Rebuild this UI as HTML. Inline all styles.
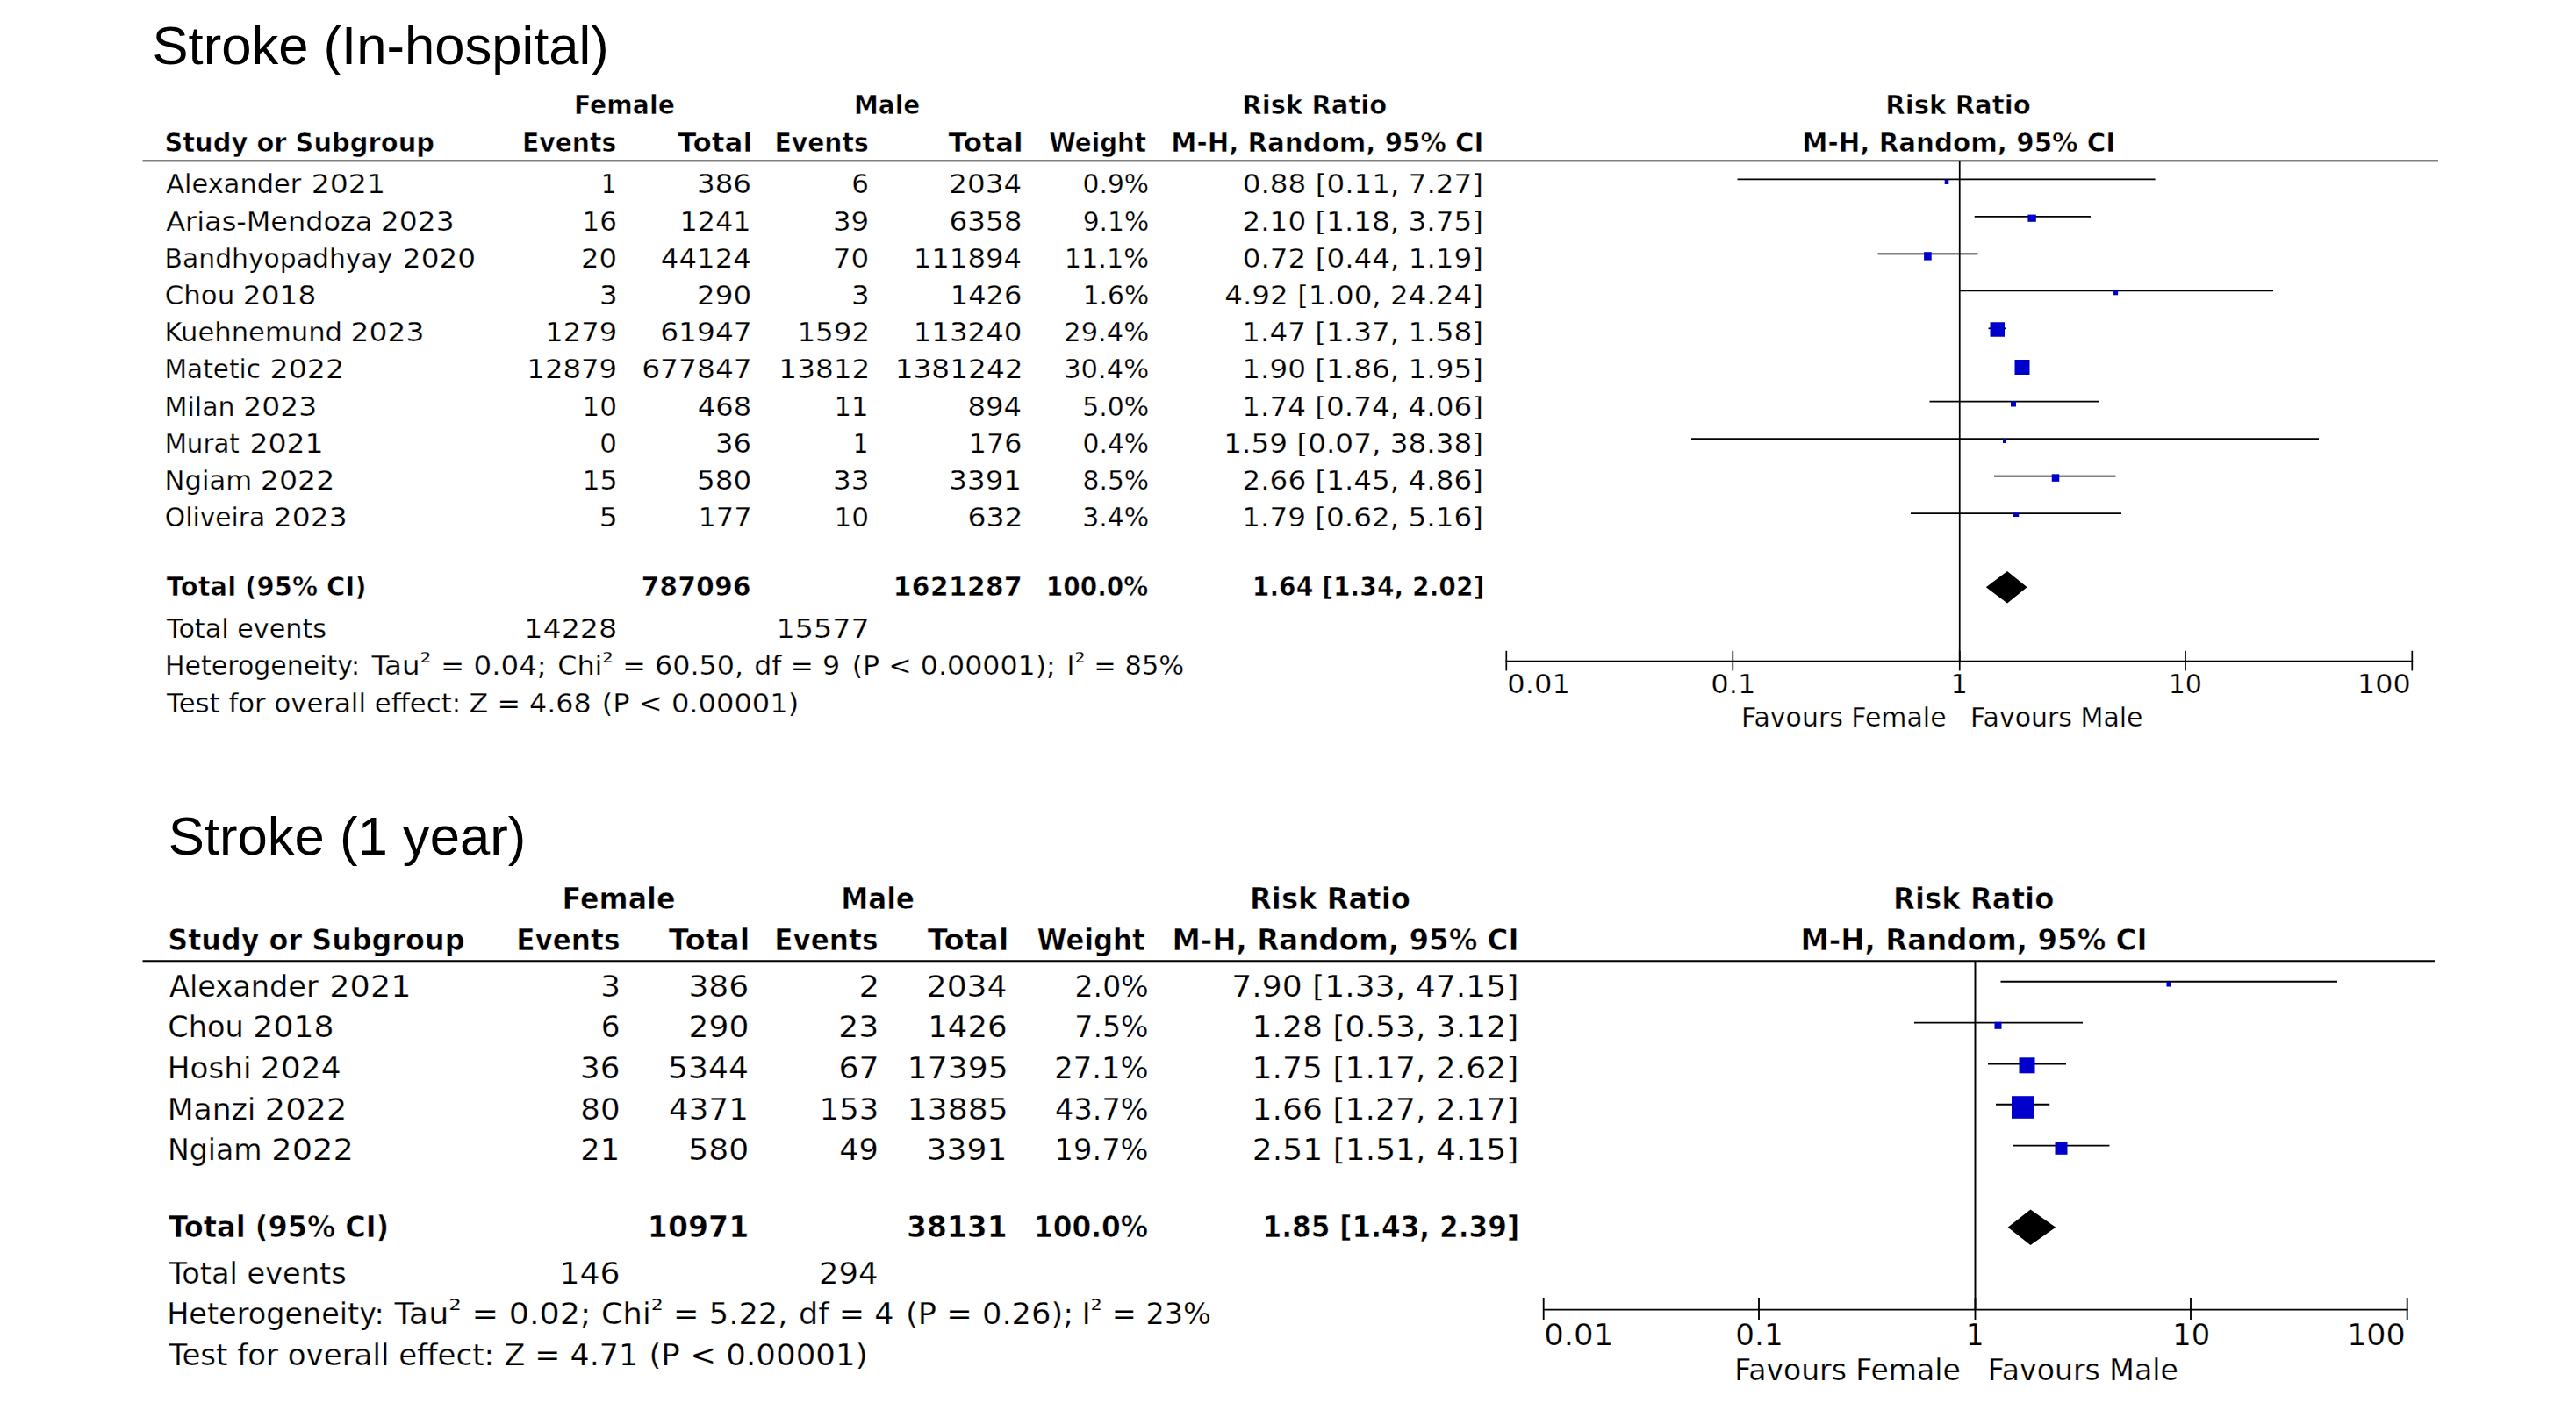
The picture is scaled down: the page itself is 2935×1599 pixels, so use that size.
<!DOCTYPE html>
<html lang="en"><head><meta charset="utf-8"><title>Stroke forest plots</title>
<style>
html,body{margin:0;padding:0;background:#fff;}
body{width:2935px;height:1599px;overflow:hidden;}
svg{display:block;}
text{fill:#000;white-space:pre;}
.r{font-family:"DejaVu Sans","Liberation Sans",sans-serif;font-weight:normal;stroke:#fff;stroke-width:0.25px;}
.b{font-family:"DejaVu Sans","Liberation Sans",sans-serif;font-weight:bold;stroke:#fff;stroke-width:0.55px;}
.a{font-family:"Liberation Sans",Arial,sans-serif;font-weight:normal;}
</style></head>
<body>
<svg width="2935" height="1599" viewBox="0 0 2935 1599">
<rect width="2935" height="1599" fill="#fff"/>
<g>
<line x1="162.5" y1="183.4" x2="2778" y2="183.4" stroke="#000" stroke-width="1.85"/>
<line x1="2232.75" y1="183.3" x2="2232.75" y2="753.6" stroke="#000" stroke-width="1.75"/>
<line x1="1715.5" y1="753.6" x2="2749.2" y2="753.6" stroke="#000" stroke-width="1.75"/>
<line x1="1716.3" y1="741.8" x2="1716.3" y2="764.4" stroke="#000" stroke-width="1.7"/>
<line x1="1974.3" y1="741.8" x2="1974.3" y2="764.4" stroke="#000" stroke-width="1.7"/>
<line x1="2232.75" y1="741.8" x2="2232.75" y2="764.4" stroke="#000" stroke-width="1.7"/>
<line x1="2490.0" y1="741.8" x2="2490.0" y2="764.4" stroke="#000" stroke-width="1.7"/>
<line x1="2748.3" y1="741.8" x2="2748.3" y2="764.4" stroke="#000" stroke-width="1.7"/>
<line x1="1979.5" y1="204.4" x2="2455.6" y2="204.4" stroke="#000" stroke-width="1.75"/>
<rect x="2215.70" y="204.80" width="4.6" height="5.2" fill="#0000cc"/>
<line x1="2249.75" y1="246.9" x2="2382" y2="246.9" stroke="#000" stroke-width="1.75"/>
<rect x="2310.40" y="244.60" width="9.4" height="8.2" fill="#0000cc"/>
<line x1="2139.5" y1="289.4" x2="2253.5" y2="289.4" stroke="#000" stroke-width="1.75"/>
<rect x="2192.10" y="287.20" width="8.6" height="9.4" fill="#0000cc"/>
<line x1="2233" y1="331.3" x2="2590" y2="331.3" stroke="#000" stroke-width="1.75"/>
<rect x="2408.10" y="330.90" width="5" height="5.4" fill="#0000cc"/>
<line x1="2265.5" y1="374.3" x2="2285.5" y2="374.3" stroke="#000" stroke-width="1.75"/>
<rect x="2267.50" y="367.25" width="16.5" height="16.5" fill="#0000cc"/>
<line x1="2298" y1="418.5" x2="2310" y2="418.5" stroke="#000" stroke-width="1.75"/>
<rect x="2295.50" y="410.00" width="17" height="17" fill="#0000cc"/>
<line x1="2198.5" y1="457.7" x2="2391" y2="457.7" stroke="#000" stroke-width="1.75"/>
<rect x="2291.00" y="457.50" width="6" height="6" fill="#0000cc"/>
<line x1="1927" y1="500" x2="2642" y2="500" stroke="#000" stroke-width="1.75"/>
<rect x="2282.00" y="500.00" width="4" height="5" fill="#0000cc"/>
<line x1="2272" y1="542.5" x2="2410.5" y2="542.5" stroke="#000" stroke-width="1.75"/>
<rect x="2337.75" y="540.35" width="8.5" height="8.5" fill="#0000cc"/>
<line x1="2177" y1="585.0" x2="2417" y2="585.0" stroke="#000" stroke-width="1.75"/>
<rect x="2293.75" y="584.55" width="6.5" height="4.5" fill="#0000cc"/>
<polygon points="2262.8,669.2 2287,651.0 2309.6,669.2 2287,687.4000000000001" fill="#000"/>
<line x1="162.5" y1="1095.3" x2="2774" y2="1095.3" stroke="#000" stroke-width="2.0"/>
<line x1="2250.5" y1="1095.3" x2="2250.5" y2="1492.6" stroke="#000" stroke-width="1.95"/>
<line x1="1758" y1="1492.6" x2="2743.5" y2="1492.6" stroke="#000" stroke-width="1.95"/>
<line x1="1758.7" y1="1479" x2="1758.7" y2="1504" stroke="#000" stroke-width="1.85"/>
<line x1="2004" y1="1479" x2="2004" y2="1504" stroke="#000" stroke-width="1.85"/>
<line x1="2250.5" y1="1479" x2="2250.5" y2="1504" stroke="#000" stroke-width="1.85"/>
<line x1="2496" y1="1479" x2="2496" y2="1504" stroke="#000" stroke-width="1.85"/>
<line x1="2742.7" y1="1479" x2="2742.7" y2="1504" stroke="#000" stroke-width="1.85"/>
<line x1="2279.5" y1="1118.8" x2="2663" y2="1118.8" stroke="#000" stroke-width="1.95"/>
<rect x="2468.50" y="1119.05" width="5" height="5.5" fill="#0000cc"/>
<line x1="2181" y1="1165.6" x2="2373" y2="1165.6" stroke="#000" stroke-width="1.95"/>
<rect x="2272.50" y="1164.80" width="8" height="8" fill="#0000cc"/>
<line x1="2265" y1="1212.4" x2="2354" y2="1212.4" stroke="#000" stroke-width="1.95"/>
<rect x="2300.50" y="1205.30" width="18" height="18" fill="#0000cc"/>
<line x1="2274" y1="1258.8" x2="2335.2" y2="1258.8" stroke="#000" stroke-width="1.95"/>
<rect x="2292.00" y="1249.20" width="25.2" height="25.6" fill="#0000cc"/>
<line x1="2293.5" y1="1305.6" x2="2403.5" y2="1305.6" stroke="#000" stroke-width="1.95"/>
<rect x="2341.50" y="1301.80" width="14" height="14" fill="#0000cc"/>
<polygon points="2287.6,1398.8 2313.5,1378.5 2342.2,1398.8 2313.5,1419.1" fill="#000"/>
</g>
<g>
<text class="a" x="173.45" y="73.00" font-size="61" textLength="520.37" lengthAdjust="spacingAndGlyphs">Stroke (In-hospital)</text>
<text class="b" x="653.90" y="130.20" font-size="30.4" textLength="114.97" lengthAdjust="spacingAndGlyphs">Female</text>
<text class="b" x="972.93" y="130.20" font-size="30.4" textLength="75.43" lengthAdjust="spacingAndGlyphs">Male</text>
<text class="b" x="1415.33" y="130.20" font-size="30.4" textLength="164.92" lengthAdjust="spacingAndGlyphs">Risk Ratio</text>
<text class="b" x="2148.32" y="130.20" font-size="30.4" textLength="165.43" lengthAdjust="spacingAndGlyphs">Risk Ratio</text>
<text class="b" x="187.42" y="172.80" font-size="30.4" textLength="307.63" lengthAdjust="spacingAndGlyphs">Study or Subgroup</text>
<text class="b" x="594.90" y="172.80" font-size="30.4" textLength="107.44" lengthAdjust="spacingAndGlyphs">Events</text>
<text class="b" x="772.35" y="172.80" font-size="30.4" textLength="84.76" lengthAdjust="spacingAndGlyphs">Total</text>
<text class="b" x="882.40" y="172.80" font-size="30.4" textLength="107.44" lengthAdjust="spacingAndGlyphs">Events</text>
<text class="b" x="1080.60" y="172.80" font-size="30.4" textLength="85.02" lengthAdjust="spacingAndGlyphs">Total</text>
<text class="b" x="1195.17" y="172.80" font-size="30.4" textLength="110.97" lengthAdjust="spacingAndGlyphs">Weight</text>
<text class="b" x="1334.31" y="172.80" font-size="30.4" textLength="356.20" lengthAdjust="spacingAndGlyphs">M-H, Random, 95% CI</text>
<text class="b" x="2053.30" y="172.80" font-size="30.4" textLength="356.91" lengthAdjust="spacingAndGlyphs">M-H, Random, 95% CI</text>
<text class="r" y="220.30" font-size="30.0"><tspan x="189.26" textLength="154.14" lengthAdjust="spacingAndGlyphs">Alexander</tspan> <tspan x="354.73" textLength="84.23" lengthAdjust="spacingAndGlyphs">2021</tspan></text>
<text class="r" x="684.90" y="220.30" font-size="30.0" textLength="17.25" lengthAdjust="spacingAndGlyphs">1</text>
<text class="r" x="793.98" y="220.30" font-size="30.0" textLength="62.06" lengthAdjust="spacingAndGlyphs">386</text>
<text class="r" x="970.31" y="220.30" font-size="30.0" textLength="19.64" lengthAdjust="spacingAndGlyphs">6</text>
<text class="r" x="1081.38" y="220.30" font-size="30.0" textLength="82.75" lengthAdjust="spacingAndGlyphs">2034</text>
<text class="r" x="1233.54" y="220.30" font-size="30.0" textLength="75.60" lengthAdjust="spacingAndGlyphs">0.9%</text>
<text class="r" x="1415.75" y="220.30" font-size="30.0" textLength="274.25" lengthAdjust="spacingAndGlyphs">0.88 [0.11, 7.27]</text>
<text class="r" y="262.52" font-size="30.0"><tspan x="189.25" textLength="235.15" lengthAdjust="spacingAndGlyphs">Arias-Mendoza</tspan> <tspan x="433.84" textLength="83.80" lengthAdjust="spacingAndGlyphs">2023</tspan></text>
<text class="r" x="663.48" y="262.52" font-size="30.0" textLength="39.37" lengthAdjust="spacingAndGlyphs">16</text>
<text class="r" x="774.47" y="262.52" font-size="30.0" textLength="81.22" lengthAdjust="spacingAndGlyphs">1241</text>
<text class="r" x="948.99" y="262.52" font-size="30.0" textLength="41.29" lengthAdjust="spacingAndGlyphs">39</text>
<text class="r" x="1081.48" y="262.52" font-size="30.0" textLength="83.05" lengthAdjust="spacingAndGlyphs">6358</text>
<text class="r" x="1233.63" y="262.52" font-size="30.0" textLength="75.51" lengthAdjust="spacingAndGlyphs">9.1%</text>
<text class="r" x="1415.51" y="262.52" font-size="30.0" textLength="274.49" lengthAdjust="spacingAndGlyphs">2.10 [1.18, 3.75]</text>
<text class="r" y="304.74" font-size="30.0"><tspan x="187.58" textLength="259.81" lengthAdjust="spacingAndGlyphs">Bandhyopadhyay</tspan> <tspan x="458.85" textLength="83.32" lengthAdjust="spacingAndGlyphs">2020</tspan></text>
<text class="r" x="662.00" y="304.74" font-size="30.0" textLength="41.04" lengthAdjust="spacingAndGlyphs">20</text>
<text class="r" x="752.88" y="304.74" font-size="30.0" textLength="102.94" lengthAdjust="spacingAndGlyphs">44124</text>
<text class="r" x="948.79" y="304.74" font-size="30.0" textLength="41.36" lengthAdjust="spacingAndGlyphs">70</text>
<text class="r" x="1040.73" y="304.74" font-size="30.0" textLength="123.39" lengthAdjust="spacingAndGlyphs">111894</text>
<text class="r" x="1212.66" y="304.74" font-size="30.0" textLength="96.51" lengthAdjust="spacingAndGlyphs">11.1%</text>
<text class="r" x="1415.75" y="304.74" font-size="30.0" textLength="274.25" lengthAdjust="spacingAndGlyphs">0.72 [0.44, 1.19]</text>
<text class="r" y="346.96" font-size="30.0"><tspan x="187.77" textLength="79.53" lengthAdjust="spacingAndGlyphs">Chou</tspan> <tspan x="276.85" textLength="83.39" lengthAdjust="spacingAndGlyphs">2018</tspan></text>
<text class="r" x="682.90" y="346.96" font-size="30.0" textLength="20.60" lengthAdjust="spacingAndGlyphs">3</text>
<text class="r" x="794.08" y="346.96" font-size="30.0" textLength="62.08" lengthAdjust="spacingAndGlyphs">290</text>
<text class="r" x="970.00" y="346.96" font-size="30.0" textLength="20.60" lengthAdjust="spacingAndGlyphs">3</text>
<text class="r" x="1082.76" y="346.96" font-size="30.0" textLength="81.56" lengthAdjust="spacingAndGlyphs">1426</text>
<text class="r" x="1233.74" y="346.96" font-size="30.0" textLength="75.40" lengthAdjust="spacingAndGlyphs">1.6%</text>
<text class="r" x="1395.31" y="346.96" font-size="30.0" textLength="294.69" lengthAdjust="spacingAndGlyphs">4.92 [1.00, 24.24]</text>
<text class="r" y="389.18" font-size="30.0"><tspan x="187.49" textLength="202.54" lengthAdjust="spacingAndGlyphs">Kuehnemund</tspan> <tspan x="399.59" textLength="83.80" lengthAdjust="spacingAndGlyphs">2023</tspan></text>
<text class="r" x="621.35" y="389.18" font-size="30.0" textLength="81.81" lengthAdjust="spacingAndGlyphs">1279</text>
<text class="r" x="752.16" y="389.18" font-size="30.0" textLength="104.65" lengthAdjust="spacingAndGlyphs">61947</text>
<text class="r" x="908.40" y="389.18" font-size="30.0" textLength="82.85" lengthAdjust="spacingAndGlyphs">1592</text>
<text class="r" x="1040.72" y="389.18" font-size="30.0" textLength="123.73" lengthAdjust="spacingAndGlyphs">113240</text>
<text class="r" x="1212.27" y="389.18" font-size="30.0" textLength="96.92" lengthAdjust="spacingAndGlyphs">29.4%</text>
<text class="r" x="1415.31" y="389.18" font-size="30.0" textLength="274.69" lengthAdjust="spacingAndGlyphs">1.47 [1.37, 1.58]</text>
<text class="r" y="431.40" font-size="30.0"><tspan x="187.60" textLength="109.49" lengthAdjust="spacingAndGlyphs">Matetic</tspan> <tspan x="307.57" textLength="84.50" lengthAdjust="spacingAndGlyphs">2022</tspan></text>
<text class="r" x="600.33" y="431.40" font-size="30.0" textLength="102.84" lengthAdjust="spacingAndGlyphs">12879</text>
<text class="r" x="731.16" y="431.40" font-size="30.0" textLength="125.65" lengthAdjust="spacingAndGlyphs">677847</text>
<text class="r" x="887.39" y="431.40" font-size="30.0" textLength="103.88" lengthAdjust="spacingAndGlyphs">13812</text>
<text class="r" x="1019.68" y="431.40" font-size="30.0" textLength="145.90" lengthAdjust="spacingAndGlyphs">1381242</text>
<text class="r" x="1212.17" y="431.40" font-size="30.0" textLength="97.01" lengthAdjust="spacingAndGlyphs">30.4%</text>
<text class="r" x="1415.31" y="431.40" font-size="30.0" textLength="274.69" lengthAdjust="spacingAndGlyphs">1.90 [1.86, 1.95]</text>
<text class="r" y="473.62" font-size="30.0"><tspan x="187.55" textLength="80.00" lengthAdjust="spacingAndGlyphs">Milan</tspan> <tspan x="277.34" textLength="83.80" lengthAdjust="spacingAndGlyphs">2023</tspan></text>
<text class="r" x="663.47" y="473.62" font-size="30.0" textLength="39.49" lengthAdjust="spacingAndGlyphs">10</text>
<text class="r" x="794.89" y="473.62" font-size="30.0" textLength="61.30" lengthAdjust="spacingAndGlyphs">468</text>
<text class="r" x="950.62" y="473.62" font-size="30.0" textLength="38.96" lengthAdjust="spacingAndGlyphs">11</text>
<text class="r" x="1102.57" y="473.62" font-size="30.0" textLength="61.54" lengthAdjust="spacingAndGlyphs">894</text>
<text class="r" x="1233.19" y="473.62" font-size="30.0" textLength="75.96" lengthAdjust="spacingAndGlyphs">5.0%</text>
<text class="r" x="1415.31" y="473.62" font-size="30.0" textLength="274.69" lengthAdjust="spacingAndGlyphs">1.74 [0.74, 4.06]</text>
<text class="r" y="515.84" font-size="30.0"><tspan x="187.63" textLength="85.17" lengthAdjust="spacingAndGlyphs">Murat</tspan> <tspan x="284.43" textLength="84.23" lengthAdjust="spacingAndGlyphs">2021</tspan></text>
<text class="r" x="683.33" y="515.84" font-size="30.0" textLength="19.62" lengthAdjust="spacingAndGlyphs">0</text>
<text class="r" x="815.01" y="515.84" font-size="30.0" textLength="41.03" lengthAdjust="spacingAndGlyphs">36</text>
<text class="r" x="972.00" y="515.84" font-size="30.0" textLength="17.25" lengthAdjust="spacingAndGlyphs">1</text>
<text class="r" x="1103.80" y="515.84" font-size="30.0" textLength="60.50" lengthAdjust="spacingAndGlyphs">176</text>
<text class="r" x="1233.54" y="515.84" font-size="30.0" textLength="75.60" lengthAdjust="spacingAndGlyphs">0.4%</text>
<text class="r" x="1394.31" y="515.84" font-size="30.0" textLength="295.70" lengthAdjust="spacingAndGlyphs">1.59 [0.07, 38.38]</text>
<text class="r" y="558.06" font-size="30.0"><tspan x="187.49" textLength="99.62" lengthAdjust="spacingAndGlyphs">Ngiam</tspan> <tspan x="296.82" textLength="84.50" lengthAdjust="spacingAndGlyphs">2022</tspan></text>
<text class="r" x="663.41" y="558.06" font-size="30.0" textLength="40.26" lengthAdjust="spacingAndGlyphs">15</text>
<text class="r" x="793.95" y="558.06" font-size="30.0" textLength="62.22" lengthAdjust="spacingAndGlyphs">580</text>
<text class="r" x="948.97" y="558.06" font-size="30.0" textLength="41.65" lengthAdjust="spacingAndGlyphs">33</text>
<text class="r" x="1081.28" y="558.06" font-size="30.0" textLength="82.77" lengthAdjust="spacingAndGlyphs">3391</text>
<text class="r" x="1233.48" y="558.06" font-size="30.0" textLength="75.66" lengthAdjust="spacingAndGlyphs">8.5%</text>
<text class="r" x="1415.51" y="558.06" font-size="30.0" textLength="274.49" lengthAdjust="spacingAndGlyphs">2.66 [1.45, 4.86]</text>
<text class="r" y="600.28" font-size="30.0"><tspan x="187.83" textLength="114.36" lengthAdjust="spacingAndGlyphs">Oliveira</tspan> <tspan x="311.84" textLength="83.80" lengthAdjust="spacingAndGlyphs">2023</tspan></text>
<text class="r" x="682.82" y="600.28" font-size="30.0" textLength="20.96" lengthAdjust="spacingAndGlyphs">5</text>
<text class="r" x="795.45" y="600.28" font-size="30.0" textLength="61.29" lengthAdjust="spacingAndGlyphs">177</text>
<text class="r" x="950.57" y="600.28" font-size="30.0" textLength="39.49" lengthAdjust="spacingAndGlyphs">10</text>
<text class="r" x="1102.45" y="600.28" font-size="30.0" textLength="63.16" lengthAdjust="spacingAndGlyphs">632</text>
<text class="r" x="1233.22" y="600.28" font-size="30.0" textLength="75.93" lengthAdjust="spacingAndGlyphs">3.4%</text>
<text class="r" x="1415.31" y="600.28" font-size="30.0" textLength="274.69" lengthAdjust="spacingAndGlyphs">1.79 [0.62, 5.16]</text>
<text class="b" x="189.86" y="679.30" font-size="30.4" textLength="227.64" lengthAdjust="spacingAndGlyphs">Total (95% CI)</text>
<text class="b" x="730.49" y="679.30" font-size="30.4" textLength="125.12" lengthAdjust="spacingAndGlyphs">787096</text>
<text class="b" x="1017.59" y="679.30" font-size="30.4" textLength="147.32" lengthAdjust="spacingAndGlyphs">1621287</text>
<text class="b" x="1191.84" y="679.30" font-size="30.4" textLength="116.54" lengthAdjust="spacingAndGlyphs">100.0%</text>
<text class="b" x="1426.82" y="679.30" font-size="30.4" textLength="264.60" lengthAdjust="spacingAndGlyphs">1.64 [1.34, 2.02]</text>
<text class="r" x="190.09" y="727.30" font-size="30.0" textLength="181.89" lengthAdjust="spacingAndGlyphs">Total events</text>
<text class="r" x="597.35" y="727.30" font-size="30.0" textLength="105.83" lengthAdjust="spacingAndGlyphs">14228</text>
<text class="r" x="884.63" y="727.30" font-size="30.0" textLength="106.22" lengthAdjust="spacingAndGlyphs">15577</text>
<text class="r" y="769.30" font-size="30.0"><tspan x="188.06" textLength="221.94" lengthAdjust="spacingAndGlyphs">Heterogeneity:</tspan> <tspan x="423.60" textLength="199.20" lengthAdjust="spacingAndGlyphs">Tau<tspan dy="-4.5">²</tspan><tspan dy="4.5"> = 0.04;</tspan></tspan> <tspan x="635.21" textLength="211.89" lengthAdjust="spacingAndGlyphs">Chi<tspan dy="-4.5">²</tspan><tspan dy="4.5"> = 60.50,</tspan></tspan> <tspan x="859.25" textLength="97.97" lengthAdjust="spacingAndGlyphs">df = 9</tspan> <tspan x="970.78" textLength="231.91" lengthAdjust="spacingAndGlyphs">(P &lt; 0.00001);</tspan> <tspan x="1215.51" textLength="133.67" lengthAdjust="spacingAndGlyphs">I<tspan dy="-4.5">²</tspan><tspan dy="4.5"> = 85%</tspan></tspan></text>
<text class="r" y="811.80" font-size="30.0"><tspan x="190.09" textLength="335.00" lengthAdjust="spacingAndGlyphs">Test for overall effect:</tspan> <tspan x="534.58" textLength="139.09" lengthAdjust="spacingAndGlyphs">Z = 4.68</tspan> <tspan x="685.74" textLength="224.52" lengthAdjust="spacingAndGlyphs">(P &lt; 0.00001)</tspan></text>
<text class="r" x="1717.38" y="790.30" font-size="30.0" textLength="71.59" lengthAdjust="spacingAndGlyphs">0.01</text>
<text class="r" x="1949.38" y="790.30" font-size="30.0" textLength="51.08" lengthAdjust="spacingAndGlyphs">0.1</text>
<text class="r" x="2222.71" y="790.30" font-size="30.0" textLength="19.05" lengthAdjust="spacingAndGlyphs">1</text>
<text class="r" x="2470.69" y="790.30" font-size="30.0" textLength="38.30" lengthAdjust="spacingAndGlyphs">10</text>
<text class="r" x="2686.01" y="790.30" font-size="30.0" textLength="60.60" lengthAdjust="spacingAndGlyphs">100</text>
<text class="r" x="1984.06" y="827.80" font-size="30.0" textLength="233.53" lengthAdjust="spacingAndGlyphs">Favours Female</text>
<text class="r" x="2245.06" y="827.80" font-size="30.0" textLength="196.54" lengthAdjust="spacingAndGlyphs">Favours Male</text>
<text class="a" x="191.70" y="974.30" font-size="61" textLength="407.62" lengthAdjust="spacingAndGlyphs">Stroke (1 year)</text>
<text class="b" x="640.58" y="1036.20" font-size="33.6" textLength="128.96" lengthAdjust="spacingAndGlyphs">Female</text>
<text class="b" x="958.14" y="1036.20" font-size="33.6" textLength="83.87" lengthAdjust="spacingAndGlyphs">Male</text>
<text class="b" x="1424.04" y="1036.20" font-size="33.6" textLength="182.85" lengthAdjust="spacingAndGlyphs">Risk Ratio</text>
<text class="b" x="2157.03" y="1036.20" font-size="33.6" textLength="183.36" lengthAdjust="spacingAndGlyphs">Risk Ratio</text>
<text class="b" x="191.21" y="1082.80" font-size="33.6" textLength="338.22" lengthAdjust="spacingAndGlyphs">Study or Subgroup</text>
<text class="b" x="588.14" y="1082.80" font-size="33.6" textLength="118.34" lengthAdjust="spacingAndGlyphs">Events</text>
<text class="b" x="761.83" y="1082.80" font-size="33.6" textLength="92.51" lengthAdjust="spacingAndGlyphs">Total</text>
<text class="b" x="882.14" y="1082.80" font-size="33.6" textLength="118.34" lengthAdjust="spacingAndGlyphs">Events</text>
<text class="b" x="1056.83" y="1082.80" font-size="33.6" textLength="92.51" lengthAdjust="spacingAndGlyphs">Total</text>
<text class="b" x="1181.58" y="1082.80" font-size="33.6" textLength="123.13" lengthAdjust="spacingAndGlyphs">Weight</text>
<text class="b" x="1335.51" y="1082.80" font-size="33.6" textLength="394.99" lengthAdjust="spacingAndGlyphs">M-H, Random, 95% CI</text>
<text class="b" x="2051.51" y="1082.80" font-size="33.6" textLength="394.99" lengthAdjust="spacingAndGlyphs">M-H, Random, 95% CI</text>
<text class="r" y="1135.80" font-size="33.2"><tspan x="192.94" textLength="169.86" lengthAdjust="spacingAndGlyphs">Alexander</tspan> <tspan x="375.32" textLength="93.16" lengthAdjust="spacingAndGlyphs">2021</tspan></text>
<text class="r" x="684.32" y="1135.80" font-size="33.2" textLength="22.85" lengthAdjust="spacingAndGlyphs">3</text>
<text class="r" x="784.41" y="1135.80" font-size="33.2" textLength="68.86" lengthAdjust="spacingAndGlyphs">386</text>
<text class="r" x="978.53" y="1135.80" font-size="33.2" textLength="23.70" lengthAdjust="spacingAndGlyphs">2</text>
<text class="r" x="1055.71" y="1135.80" font-size="33.2" textLength="91.81" lengthAdjust="spacingAndGlyphs">2034</text>
<text class="r" x="1224.58" y="1135.80" font-size="33.2" textLength="84.05" lengthAdjust="spacingAndGlyphs">2.0%</text>
<text class="r" x="1403.23" y="1135.80" font-size="33.2" textLength="327.17" lengthAdjust="spacingAndGlyphs">7.90 [1.33, 47.15]</text>
<text class="r" y="1182.30" font-size="33.2"><tspan x="191.32" textLength="86.42" lengthAdjust="spacingAndGlyphs">Chou</tspan> <tspan x="288.35" textLength="92.23" lengthAdjust="spacingAndGlyphs">2018</tspan></text>
<text class="r" x="684.67" y="1182.30" font-size="33.2" textLength="21.79" lengthAdjust="spacingAndGlyphs">6</text>
<text class="r" x="784.51" y="1182.30" font-size="33.2" textLength="68.88" lengthAdjust="spacingAndGlyphs">290</text>
<text class="r" x="955.30" y="1182.30" font-size="33.2" textLength="46.10" lengthAdjust="spacingAndGlyphs">23</text>
<text class="r" x="1057.25" y="1182.30" font-size="33.2" textLength="90.49" lengthAdjust="spacingAndGlyphs">1426</text>
<text class="r" x="1224.28" y="1182.30" font-size="33.2" textLength="84.36" lengthAdjust="spacingAndGlyphs">7.5%</text>
<text class="r" x="1426.53" y="1182.30" font-size="33.2" textLength="303.87" lengthAdjust="spacingAndGlyphs">1.28 [0.53, 3.12]</text>
<text class="r" y="1229.00" font-size="33.2"><tspan x="190.85" textLength="95.55" lengthAdjust="spacingAndGlyphs">Hoshi</tspan> <tspan x="296.86" textLength="91.76" lengthAdjust="spacingAndGlyphs">2024</tspan></text>
<text class="r" x="661.03" y="1229.00" font-size="33.2" textLength="45.52" lengthAdjust="spacingAndGlyphs">36</text>
<text class="r" x="761.07" y="1229.00" font-size="33.2" textLength="91.96" lengthAdjust="spacingAndGlyphs">5344</text>
<text class="r" x="955.42" y="1229.00" font-size="33.2" textLength="46.18" lengthAdjust="spacingAndGlyphs">67</text>
<text class="r" x="1033.89" y="1229.00" font-size="33.2" textLength="114.77" lengthAdjust="spacingAndGlyphs">17395</text>
<text class="r" x="1201.22" y="1229.00" font-size="33.2" textLength="107.44" lengthAdjust="spacingAndGlyphs">27.1%</text>
<text class="r" x="1426.53" y="1229.00" font-size="33.2" textLength="303.87" lengthAdjust="spacingAndGlyphs">1.75 [1.17, 2.62]</text>
<text class="r" y="1275.60" font-size="33.2"><tspan x="190.81" textLength="100.62" lengthAdjust="spacingAndGlyphs">Manzi</tspan> <tspan x="301.81" textLength="93.47" lengthAdjust="spacingAndGlyphs">2022</tspan></text>
<text class="r" x="661.34" y="1275.60" font-size="33.2" textLength="45.33" lengthAdjust="spacingAndGlyphs">80</text>
<text class="r" x="762.12" y="1275.60" font-size="33.2" textLength="90.78" lengthAdjust="spacingAndGlyphs">4371</text>
<text class="r" x="933.55" y="1275.60" font-size="33.2" textLength="67.79" lengthAdjust="spacingAndGlyphs">153</text>
<text class="r" x="1033.89" y="1275.60" font-size="33.2" textLength="114.77" lengthAdjust="spacingAndGlyphs">13885</text>
<text class="r" x="1202.06" y="1275.60" font-size="33.2" textLength="106.59" lengthAdjust="spacingAndGlyphs">43.7%</text>
<text class="r" x="1426.53" y="1275.60" font-size="33.2" textLength="303.87" lengthAdjust="spacingAndGlyphs">1.66 [1.27, 2.17]</text>
<text class="r" y="1322.10" font-size="33.2"><tspan x="190.95" textLength="107.56" lengthAdjust="spacingAndGlyphs">Ngiam</tspan> <tspan x="309.31" textLength="93.47" lengthAdjust="spacingAndGlyphs">2022</tspan></text>
<text class="r" x="661.17" y="1322.10" font-size="33.2" textLength="45.00" lengthAdjust="spacingAndGlyphs">21</text>
<text class="r" x="784.37" y="1322.10" font-size="33.2" textLength="69.03" lengthAdjust="spacingAndGlyphs">580</text>
<text class="r" x="956.24" y="1322.10" font-size="33.2" textLength="44.73" lengthAdjust="spacingAndGlyphs">49</text>
<text class="r" x="1055.61" y="1322.10" font-size="33.2" textLength="91.82" lengthAdjust="spacingAndGlyphs">3391</text>
<text class="r" x="1201.60" y="1322.10" font-size="33.2" textLength="107.06" lengthAdjust="spacingAndGlyphs">19.7%</text>
<text class="r" x="1426.86" y="1322.10" font-size="33.2" textLength="303.54" lengthAdjust="spacingAndGlyphs">2.51 [1.51, 4.15]</text>
<text class="b" x="192.14" y="1409.60" font-size="33.6" textLength="251.11" lengthAdjust="spacingAndGlyphs">Total (95% CI)</text>
<text class="b" x="737.81" y="1409.60" font-size="33.6" textLength="115.43" lengthAdjust="spacingAndGlyphs">10971</text>
<text class="b" x="1033.09" y="1409.60" font-size="33.6" textLength="114.62" lengthAdjust="spacingAndGlyphs">38131</text>
<text class="b" x="1178.02" y="1409.60" font-size="33.6" textLength="130.17" lengthAdjust="spacingAndGlyphs">100.0%</text>
<text class="b" x="1438.48" y="1409.60" font-size="33.6" textLength="292.70" lengthAdjust="spacingAndGlyphs">1.85 [1.43, 2.39]</text>
<text class="r" x="192.40" y="1462.80" font-size="33.2" textLength="202.24" lengthAdjust="spacingAndGlyphs">Total events</text>
<text class="r" x="637.52" y="1462.80" font-size="33.2" textLength="69.05" lengthAdjust="spacingAndGlyphs">146</text>
<text class="r" x="932.91" y="1462.80" font-size="33.2" textLength="67.58" lengthAdjust="spacingAndGlyphs">294</text>
<text class="r" y="1509.30" font-size="33.2"><tspan x="190.21" textLength="247.69" lengthAdjust="spacingAndGlyphs">Heterogeneity:</tspan> <tspan x="449.61" textLength="223.65" lengthAdjust="spacingAndGlyphs">Tau<tspan dy="-5.0">²</tspan><tspan dy="5.0"> = 0.02;</tspan></tspan> <tspan x="685.02" textLength="212.42" lengthAdjust="spacingAndGlyphs">Chi<tspan dy="-5.0">²</tspan><tspan dy="5.0"> = 5.22,</tspan></tspan> <tspan x="910.07" textLength="108.40" lengthAdjust="spacingAndGlyphs">df = 4</tspan> <tspan x="1031.97" textLength="191.15" lengthAdjust="spacingAndGlyphs">(P = 0.26);</tspan> <tspan x="1232.71" textLength="147.14" lengthAdjust="spacingAndGlyphs">I<tspan dy="-5.0">²</tspan><tspan dy="5.0"> = 23%</tspan></tspan></text>
<text class="r" y="1555.80" font-size="33.2"><tspan x="192.40" textLength="370.57" lengthAdjust="spacingAndGlyphs">Test for overall effect:</tspan> <tspan x="574.43" textLength="152.78" lengthAdjust="spacingAndGlyphs">Z = 4.71</tspan> <tspan x="739.44" textLength="249.13" lengthAdjust="spacingAndGlyphs">(P &lt; 0.00001)</tspan></text>
<text class="r" x="1759.16" y="1533.30" font-size="33.2" textLength="79.12" lengthAdjust="spacingAndGlyphs">0.01</text>
<text class="r" x="1977.24" y="1533.30" font-size="33.2" textLength="54.41" lengthAdjust="spacingAndGlyphs">0.1</text>
<text class="r" x="2239.96" y="1533.30" font-size="33.2" textLength="20.52" lengthAdjust="spacingAndGlyphs">1</text>
<text class="r" x="2475.29" y="1533.30" font-size="33.2" textLength="42.95" lengthAdjust="spacingAndGlyphs">10</text>
<text class="r" x="2674.16" y="1533.30" font-size="33.2" textLength="66.66" lengthAdjust="spacingAndGlyphs">100</text>
<text class="r" x="1976.26" y="1573.30" font-size="33.2" textLength="257.50" lengthAdjust="spacingAndGlyphs">Favours Female</text>
<text class="r" x="2264.75" y="1573.30" font-size="33.2" textLength="217.02" lengthAdjust="spacingAndGlyphs">Favours Male</text>
</g>
</svg>
</body></html>
